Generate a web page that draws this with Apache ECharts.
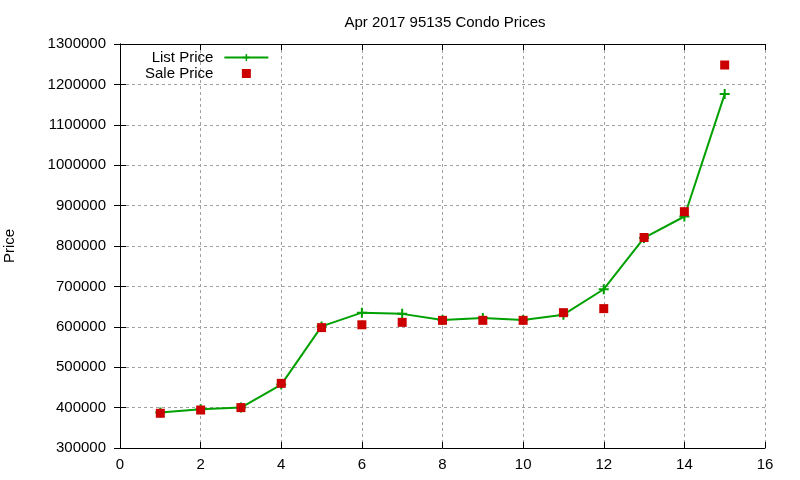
<!DOCTYPE html>
<html>
<head>
<meta charset="utf-8">
<script src="https://cdn.jsdelivr.net/npm/echarts@6/dist/echarts.min.js"></script>
<style>
  html, body { margin: 0; padding: 0; background: #fff; }
  #chart { width: 800px; height: 480px; }
</style>
</head>
<body>
<div id="chart"></div>
<script>
// 月份序号（横轴）
const months = [1, 2, 3, 4, 5, 6, 7, 8, 9, 10, 11, 12, 13, 14, 15];
// 挂牌价
const listPrice = [388000, 396000, 400000, 457000, 601000, 635000, 632000, 617000,
  622000, 617000, 630000, 693000, 820000, 873000, 1176000];
// 成交价
const salePrice = [386000, 394000, 400000, 460000, 598000, 605000, 611000, 616000,
  616000, 616000, 635000, 645000, 821000, 885000, 1248000];

const FONT = "'Liberation Sans', Arial, sans-serif";
const green = '#00a000';
const red = '#cc0000';
const plus = 'path://M4,0H6V4H10V6H6V10H4V6H0V4H4Z';
const square = 'path://M0,0H10V10H0Z';

const chart = echarts.init(document.getElementById('chart'));

// 四边都画刻度（gnuplot 风格，刻度朝内）
const tickStyle = { inside: true, length: 6, lineStyle: { color: '#000' } };
const gridLine = { show: true, lineStyle: { color: '#a0a0a0', type: [3, 3], width: 1 } };

chart.setOption({
  animation: false,
  backgroundColor: '#fff',
  title: {
    text: 'Apr 2017 95135 Condo Prices',
    left: 440, top: 10, textAlign: 'center',
    textStyle: { fontFamily: FONT, fontSize: 15, fontWeight: 'normal', color: '#000' }
  },
  legend: {
    orient: 'vertical',
    left: 140, top: 45,
    align: 'right',
    itemWidth: 44, itemHeight: 9, itemGap: 1,
    symbolKeepAspect: true,
    textStyle: { fontFamily: FONT, fontSize: 15, lineHeight: 13, color: '#000', padding: [0, 6, 0, 0] },
    data: [
      { name: 'List Price' },
      { name: 'Sale Price', icon: square }
    ]
  },
  grid: { left: 120, right: 35, top: 44, bottom: 32, outerBoundsMode: 'none' },
  xAxis: [
    {
      type: 'value', min: 0, max: 16, interval: 2,
      axisLine: { lineStyle: { color: '#000' } },
      axisTick: tickStyle,
      axisLabel: { fontFamily: FONT, fontSize: 15, color: '#000', margin: 9 },
      splitLine: gridLine
    },
    {
      type: 'value', min: 0, max: 16, interval: 2, position: 'top',
      axisLine: { lineStyle: { color: '#000' } },
      axisTick: tickStyle, axisLabel: { show: false }, splitLine: { show: false }
    }
  ],
  yAxis: [
    {
      type: 'value', min: 300000, max: 1300000, interval: 100000,
      name: 'Price', nameLocation: 'middle', nameGap: 103, nameRotate: 90,
      nameTextStyle: { fontFamily: FONT, fontSize: 15, color: '#000' },
      axisLine: { show: true, lineStyle: { color: '#000' } },
      axisTick: tickStyle,
      axisLabel: {
        fontFamily: FONT, fontSize: 15, color: '#000', margin: 14,
        formatter: v => String(v)
      },
      splitLine: gridLine
    },
    {
      type: 'value', min: 300000, max: 1300000, interval: 100000, position: 'right',
      axisLine: { show: true, lineStyle: { color: '#000' } },
      axisTick: tickStyle, axisLabel: { show: false }, splitLine: { show: false }
    }
  ],
  series: [
    {
      name: 'List Price', type: 'line',
      data: months.map((m, i) => [m, listPrice[i]]),
      symbol: plus, symbolSize: 10,
      lineStyle: { color: green, width: 2 },
      itemStyle: { color: green },
      z: 3
    },
    {
      name: 'Sale Price', type: 'scatter',
      data: months.map((m, i) => [m, salePrice[i]]),
      symbol: 'rect', symbolSize: 9,
      itemStyle: { color: red, opacity: 1 },
      z: 4
    }
  ]
});
</script>
</body>
</html>
